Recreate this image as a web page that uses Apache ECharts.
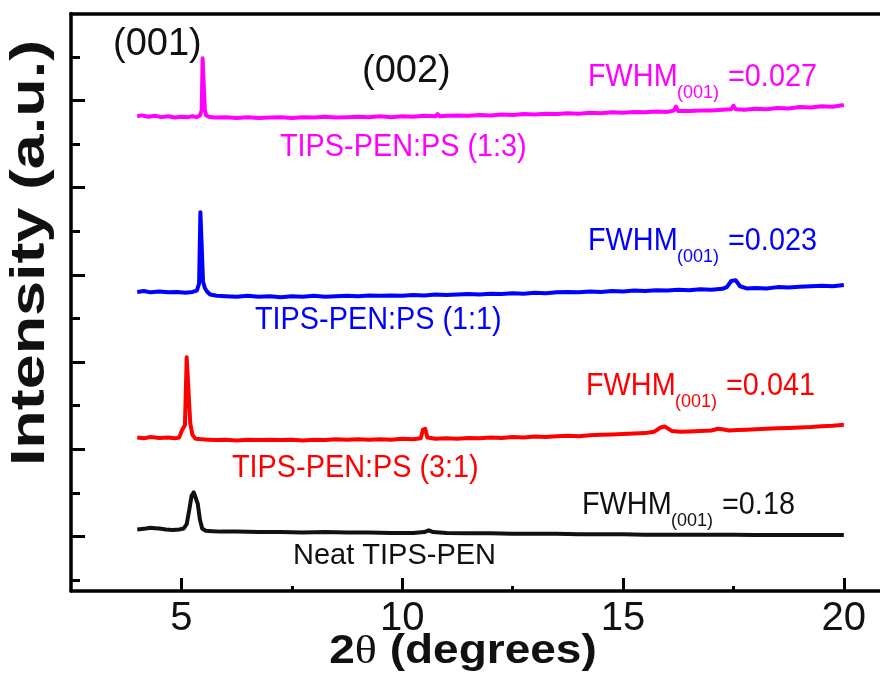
<!DOCTYPE html>
<html>
<head>
<meta charset="utf-8">
<script src="https://cdn.jsdelivr.net/npm/echarts@6/dist/echarts.min.js"></script>
<style>
html,body{margin:0;padding:0;background:#fff;}
#c{width:880px;height:687px;}
</style>
</head>
<body>
<div id="c"></div>
<script>
// ---- data (2theta in degrees, intensity in offset arbitrary units) ----
const xMajorTicks = [5, 10, 15, 20];
const xMinorTicks = [7.5, 12.5, 17.5];
const yMajorTicks = [1, 3, 5, 7, 9, 11];
const yMinorTicks = [0, 2, 4, 6, 8, 10, 12];

const ps13 = [[4.00,10.64],[4.10,10.66],[4.25,10.63],[4.40,10.65],[4.55,10.62],[4.70,10.64],[4.85,10.61],[5.00,10.63],[5.15,10.62],[5.25,10.64],[5.35,10.62],[5.42,10.66],[5.46,10.78],[5.48,11.97],[5.51,11.96],[5.53,10.80],[5.56,10.66],[5.62,10.63],[5.75,10.61],[6.0,10.62],[6.25,10.60],[6.5,10.62],[6.75,10.60],[7.0,10.61],[7.25,10.62],[7.5,10.60],[7.75,10.62],[8.0,10.61],[8.25,10.63],[8.5,10.61],[8.75,10.62],[9.0,10.63],[9.25,10.62],[9.5,10.64],[9.75,10.62],[10.0,10.64],[10.25,10.63],[10.5,10.65],[10.75,10.64],[10.8,10.69],[10.85,10.64],[11.0,10.65],[11.25,10.66],[11.5,10.65],[11.75,10.67],[12.0,10.66],[12.25,10.68],[12.5,10.67],[12.75,10.69],[13.0,10.68],[13.25,10.70],[13.5,10.69],[13.75,10.71],[14.0,10.70],[14.25,10.72],[14.5,10.71],[14.75,10.73],[15.0,10.72],[15.25,10.74],[15.5,10.73],[15.75,10.75],[16.0,10.74],[16.15,10.77],[16.2,10.86],[16.25,10.76],[16.5,10.76],[16.75,10.77],[17.0,10.77],[17.25,10.79],[17.45,10.80],[17.5,10.88],[17.55,10.80],[17.75,10.79],[18.0,10.81],[18.25,10.80],[18.5,10.83],[18.75,10.82],[19.0,10.85],[19.25,10.84],[19.5,10.87],[19.75,10.86],[20.0,10.90]];

const ps11 = [[4.0,6.61],[4.15,6.63],[4.3,6.60],[4.5,6.62],[4.7,6.60],[4.9,6.61],[5.1,6.59],[5.25,6.61],[5.35,6.64],[5.40,6.80],[5.43,8.44],[5.46,8.43],[5.49,6.85],[5.53,6.70],[5.58,6.62],[5.65,6.55],[5.8,6.52],[6.0,6.51],[6.25,6.50],[6.5,6.52],[6.75,6.50],[7.0,6.51],[7.25,6.49],[7.5,6.51],[7.75,6.50],[8.0,6.52],[8.25,6.50],[8.5,6.51],[8.75,6.52],[9.0,6.51],[9.25,6.53],[9.5,6.52],[9.75,6.53],[10.0,6.52],[10.25,6.54],[10.5,6.53],[10.75,6.55],[11.0,6.54],[11.25,6.55],[11.5,6.56],[11.75,6.55],[12.0,6.57],[12.25,6.56],[12.5,6.58],[12.75,6.57],[13.0,6.59],[13.25,6.58],[13.5,6.60],[13.75,6.61],[14.0,6.60],[14.25,6.62],[14.5,6.61],[14.75,6.63],[15.0,6.62],[15.25,6.64],[15.5,6.63],[15.75,6.65],[16.0,6.64],[16.25,6.66],[16.5,6.65],[16.75,6.67],[17.0,6.66],[17.25,6.68],[17.35,6.72],[17.45,6.86],[17.55,6.88],[17.65,6.74],[17.8,6.69],[18.0,6.70],[18.25,6.69],[18.5,6.72],[18.75,6.71],[19.0,6.73],[19.25,6.74],[19.5,6.75],[19.75,6.74],[20.0,6.77]];

const ps31 = [[4.0,3.27],[4.15,3.25],[4.3,3.28],[4.5,3.26],[4.7,3.27],[4.85,3.25],[4.95,3.27],[5.02,3.45],[5.08,3.55],[5.12,5.11],[5.16,5.10],[5.20,3.60],[5.25,3.33],[5.32,3.24],[5.45,3.23],[5.6,3.22],[5.8,3.21],[6.0,3.22],[6.25,3.20],[6.5,3.22],[6.75,3.21],[7.0,3.22],[7.25,3.21],[7.5,3.22],[7.75,3.20],[8.0,3.22],[8.25,3.21],[8.5,3.23],[8.75,3.22],[9.0,3.23],[9.25,3.22],[9.5,3.23],[9.75,3.22],[10.0,3.24],[10.25,3.23],[10.42,3.25],[10.47,3.45],[10.52,3.47],[10.57,3.27],[10.75,3.24],[11.0,3.25],[11.25,3.24],[11.5,3.26],[11.75,3.25],[12.0,3.27],[12.25,3.26],[12.5,3.28],[12.75,3.27],[13.0,3.29],[13.25,3.28],[13.5,3.30],[13.75,3.31],[14.0,3.30],[14.25,3.32],[14.5,3.33],[14.75,3.34],[15.0,3.35],[15.25,3.36],[15.5,3.37],[15.7,3.40],[15.85,3.50],[15.95,3.52],[16.1,3.42],[16.3,3.40],[16.5,3.41],[16.75,3.42],[17.0,3.43],[17.15,3.47],[17.25,3.46],[17.4,3.43],[17.6,3.44],[17.8,3.45],[18.0,3.46],[18.25,3.47],[18.5,3.48],[18.75,3.49],[19.0,3.50],[19.25,3.51],[19.5,3.53],[19.75,3.54],[20.0,3.56]];

const neat = [[4.0,1.16],[4.1,1.17],[4.2,1.18],[4.3,1.20],[4.4,1.19],[4.5,1.18],[4.65,1.16],[4.8,1.15],[4.95,1.16],[5.05,1.18],[5.12,1.28],[5.18,1.62],[5.23,1.93],[5.28,2.01],[5.32,1.98],[5.37,1.75],[5.42,1.38],[5.47,1.18],[5.55,1.13],[5.7,1.12],[5.9,1.11],[6.25,1.11],[6.75,1.10],[7.25,1.10],[7.75,1.09],[8.25,1.10],[8.75,1.09],[9.25,1.09],[9.75,1.08],[10.25,1.08],[10.5,1.10],[10.6,1.14],[10.7,1.10],[11.0,1.08],[11.5,1.07],[12.0,1.07],[12.5,1.06],[13.0,1.06],[13.5,1.06],[14.0,1.05],[14.5,1.05],[15.0,1.05],[15.5,1.04],[16.0,1.04],[16.5,1.04],[17.0,1.04],[17.5,1.04],[18.0,1.03],[18.5,1.03],[19.0,1.03],[19.5,1.03],[20.0,1.03]];

const seriesNames = ['TIPS-PEN:PS (1:3)', 'TIPS-PEN:PS (1:1)', 'TIPS-PEN:PS (3:1)', 'Neat TIPS-PEN'];
const fwhmValues = ['=0.027', '=0.023', '=0.041', '=0.18'];
const peakLabels = ['(001)', '(002)'];

// ---- styling ----
const FONT = '"Liberation Sans", Arial, sans-serif';
const colors = ['#ff00ff', '#0000ff', '#ff0000', '#111111'];

function txt(x, y, text, color, size, extra) {
  return Object.assign({
    type: 'text', x: x, y: y, silent: true,
    style: { text: text, fill: color, font: size + 'px ' + FONT, align: 'left', verticalAlign: 'middle' }
  }, extra || {});
}
function fwhm(x, y, value, color) {
  return {
    type: 'group', x: x, y: y, silent: true,
    children: [
      txt(0, 0, 'FWHM', color, 31, { scaleX: 0.93 }),
      txt(89, 16, '(001)', color, 18),
      txt(140, 0, value, color, 31, { scaleX: 0.93 })
    ]
  };
}

const lineSeries = (name, data, color, w) => ({
  name: name, type: 'line', data: data, showSymbol: false, symbol: 'none',
  xAxisIndex: 0, yAxisIndex: 0, animation: false,
  lineStyle: { color: color, width: w, join: 'round' }
});

const chart = echarts.init(document.getElementById('c'), null, { renderer: 'canvas' });
chart.setOption({
  backgroundColor: '#ffffff',
  animation: false,
  grid: { left: 71, right: -8, top: 13.4, bottom: 96.1, containLabel: false, outerBoundsMode: 'none' },
  xAxis: [
    {
      type: 'value', position: 'bottom', min: 2.5, max: 21,
      axisLine: { show: true, onZero: false, lineStyle: { color: '#000', width: 3.5 } },
      axisTick: { show: true, inside: true, length: 13, customValues: xMajorTicks, lineStyle: { color: '#000', width: 3 } },
      axisLabel: { show: true, customValues: xMajorTicks, fontSize: 40, fontFamily: FONT, color: '#111', margin: 8 },
      splitLine: { show: false }
    },
    {
      type: 'value', position: 'bottom', min: 2.5, max: 21,
      axisLine: { show: false, onZero: false },
      axisTick: { show: true, inside: true, length: 5, customValues: xMinorTicks, lineStyle: { color: '#000', width: 3 } },
      axisLabel: { show: false }, splitLine: { show: false }
    },
    {
      type: 'value', position: 'top', min: 2.5, max: 21,
      axisLine: { show: true, onZero: false, lineStyle: { color: '#000', width: 3.5 } },
      axisTick: { show: false }, axisLabel: { show: false }, splitLine: { show: false }
    }
  ],
  yAxis: [
    {
      type: 'value', position: 'left', min: -0.25, max: 13,
      axisLine: { show: true, onZero: false, lineStyle: { color: '#000', width: 3.5 } },
      axisTick: { show: true, inside: true, length: 14, customValues: yMajorTicks, lineStyle: { color: '#000', width: 3 } },
      axisLabel: { show: false }, splitLine: { show: false }
    },
    {
      type: 'value', position: 'left', min: -0.25, max: 13,
      axisLine: { show: false, onZero: false },
      axisTick: { show: true, inside: true, length: 9, customValues: yMinorTicks, lineStyle: { color: '#000', width: 3 } },
      axisLabel: { show: false }, splitLine: { show: false }
    }
  ],
  series: [
    lineSeries(seriesNames[0], ps13, colors[0], 4),
    lineSeries(seriesNames[1], ps11, colors[1], 4),
    lineSeries(seriesNames[2], ps31, colors[2], 4),
    lineSeries(seriesNames[3], neat, colors[3], 4)
  ],
  graphic: [
    // axis titles
    {
      type: 'text', x: 31, y: 253, rotation: Math.PI / 2, scaleX: 1.31, silent: true,
      style: { text: 'Intensity (a.u.)', fill: '#111', font: 'bold 48px ' + FONT, align: 'center', verticalAlign: 'middle' }
    },
    {
      type: 'text', x: 463, y: 652, scaleX: 1.15, silent: true,
      style: {
        text: '{a|2}{t|θ}{a| (degrees)}', align: 'center', verticalAlign: 'middle',
        rich: {
          a: { font: 'bold 40px ' + FONT, fill: '#111' },
          t: { font: '40px "Liberation Serif", serif', fill: '#111' }
        }
      }
    },
    // peak labels
    txt(113, 45, peakLabels[0], '#111', 38),
    txt(362, 72, peakLabels[1], '#111', 38),
    // sample labels
    txt(280, 147, seriesNames[0], colors[0], 31, { scaleX: 0.93 }),
    txt(255, 320, seriesNames[1], colors[1], 31, { scaleX: 0.93 }),
    txt(232, 468, seriesNames[2], colors[2], 31, { scaleX: 0.93 }),
    txt(293, 556, seriesNames[3], colors[3], 29),
    // FWHM labels
    fwhm(588, 77, fwhmValues[0], colors[0]),
    fwhm(588, 241, fwhmValues[1], colors[1]),
    fwhm(586, 386, fwhmValues[2], colors[2]),
    fwhm(582, 505, fwhmValues[3], colors[3])
  ]
});
</script>
</body>
</html>
